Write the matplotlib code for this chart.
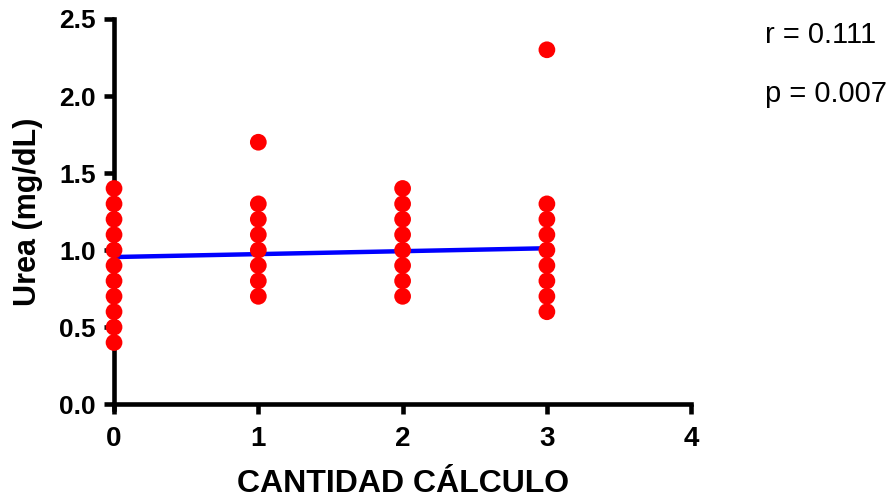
import matplotlib
matplotlib.use("Agg")
import matplotlib.pyplot as plt

plt.rcParams['font.family'] = ['Liberation Sans', 'DejaVu Sans']

# Urea values per stone count
x0 = [0] * 11
y0 = [0.4, 0.5, 0.6, 0.7, 0.8, 0.9, 1.0, 1.1, 1.2, 1.3, 1.4]
x1 = [1] * 8
y1 = [0.7, 0.8, 0.9, 1.0, 1.1, 1.2, 1.3, 1.7]
x2 = [2] * 8
y2 = [0.7, 0.8, 0.9, 1.0, 1.1, 1.2, 1.3, 1.4]
x3 = [3] * 9
y3 = [0.6, 0.7, 0.8, 0.9, 1.0, 1.1, 1.2, 1.3, 2.3]

# regression line endpoints
fit_x = [0, 3]
fit_y = [0.955, 1.012]

xs = x0 + x1 + x2 + x3
ys = y0 + y1 + y2 + y3

fig = plt.figure(figsize=(8.93, 4.99), dpi=100)
ax = fig.add_axes([0.1277, 0.19, 0.6463, 0.772])

ax.plot(fit_x, fit_y, color='#0000ff', lw=3.2, zorder=2)
ax.scatter(xs, ys, s=145, color='#ff0000', edgecolors='none', zorder=3, clip_on=False)

ax.set_xlim(0, 4)
ax.set_ylim(0, 2.5)
ax.set_xticks([0, 1, 2, 3, 4])
ax.set_yticks([0.0, 0.5, 1.0, 1.5, 2.0, 2.5])
ax.set_yticklabels(['0.0', '0.5', '1.0', '1.5', '2.0', '2.5'])

for side in ['top', 'right']:
    ax.spines[side].set_visible(False)
for side in ['left', 'bottom']:
    ax.spines[side].set_linewidth(3.3)
ax.spines['left'].set_bounds(-0.03, 2.5)
ax.tick_params(width=3.3, length=7, labelsize=19)
ax.tick_params(axis='x', pad=9, labelsize=20)
ax.tick_params(axis='y', pad=6)
for lab in ax.get_xticklabels() + ax.get_yticklabels():
    lab.set_fontweight('bold')

ax.set_xlabel('CANTIDAD CÁLCULO', fontsize=23, fontweight='bold', labelpad=12)
ax.set_ylabel('Urea (mg/dL)', fontsize=22, fontweight='bold', labelpad=12)

fig.text(0.857, 0.914, 'r = 0.111', fontsize=21)
fig.text(0.857, 0.795, 'p = 0.007', fontsize=21)

fig.savefig('out.png', dpi=100)
